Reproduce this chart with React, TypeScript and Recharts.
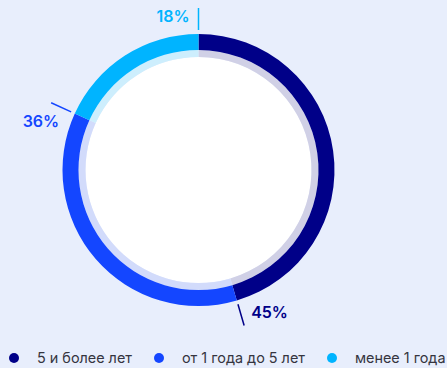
import React from "react";
import { PieChart, Pie, Cell } from "recharts";

const categories = ["5 и более лет", "от 1 года до 5 лет", "менее 1 года"];
const shares = [45, 36, 18];
const colors = ["#000088", "#1446ff", "#00b4ff"];
const tints = ["#d0d0e6", "#d2dbfb", "#cdeefd"];

const data = categories.map((name, i) => ({ name, value: shares[i] }));

const RAD = Math.PI / 180;

// label sits at the clockwise end of each slice, with a short tick line
const renderLabel = (props: any) => {
  const { cx, cy, endAngle, index, value } = props;
  const a = -endAngle * RAD;
  const x1 = cx + 140 * Math.cos(a);
  const y1 = cy + 140 * Math.sin(a);
  const x2 = cx + 162 * Math.cos(a);
  const y2 = cy + 162 * Math.sin(a);
  const offsets = [
    { dx: 7, dy: -13, anchor: "start" },
    { dx: 8, dy: 18, anchor: "end" },
    { dx: -9, dy: 8, anchor: "end" },
  ];
  const o = offsets[index];
  return (
    <g key={`lbl-${index}`}>
      <line x1={x1} y1={y1} x2={x2} y2={y2} stroke={colors[index]} strokeWidth={1.5} />
      <text
        x={x2 + o.dx}
        y={y2 + o.dy}
        textAnchor={o.anchor}
        dominantBaseline="central"
        fill={colors[index]}
        fontSize={16}
        fontWeight={600}
        fontFamily="Inter, sans-serif"
      >
        {value}%
      </text>
    </g>
  );
};

export default function App() {
  return (
    <div
      style={{
        position: "absolute",
        left: 0,
        top: 0,
        width: 447,
        height: 368,
        background: "#e8eefc",
        fontFamily: "Inter, sans-serif",
      }}
    >
      <PieChart width={447} height={340} margin={{ top: 0, right: 0, bottom: 0, left: 0 }}>
        <Pie
          data={[{ value: 1 }]}
          dataKey="value"
          cx={198.5}
          cy={170}
          innerRadius={0}
          outerRadius={113}
          fill="#ffffff"
          stroke="none"
          isAnimationActive={false}
        />
        <Pie
          data={data}
          dataKey="value"
          cx={198.5}
          cy={170}
          startAngle={90}
          endAngle={-270}
          innerRadius={113}
          outerRadius={120}
          stroke="none"
          isAnimationActive={false}
        >
          {data.map((d, i) => (
            <Cell key={d.name} fill={tints[i]} />
          ))}
        </Pie>
        <Pie
          data={data}
          dataKey="value"
          cx={198.5}
          cy={170}
          startAngle={90}
          endAngle={-270}
          innerRadius={120}
          outerRadius={136}
          stroke="none"
          label={renderLabel}
          labelLine={false}
          isAnimationActive={false}
        >
          {data.map((d, i) => (
            <Cell key={d.name} fill={colors[i]} />
          ))}
        </Pie>
      </PieChart>
      <div
        style={{
          position: "absolute",
          left: 9,
          top: 349,
          display: "flex",
          alignItems: "center",
          fontSize: 14.4,
          color: "#35353f",
          whiteSpace: "nowrap",
        }}
      >
        {categories.map((c, i) => (
          <div key={c} style={{ display: "flex", alignItems: "center", marginRight: 22 }}>
            <span
              style={{
                width: 10,
                height: 10,
                borderRadius: 5,
                background: colors[i],
                marginRight: 18,
                display: "inline-block",
              }}
            />
            <span>{c}</span>
          </div>
        ))}
      </div>
    </div>
  );
}
